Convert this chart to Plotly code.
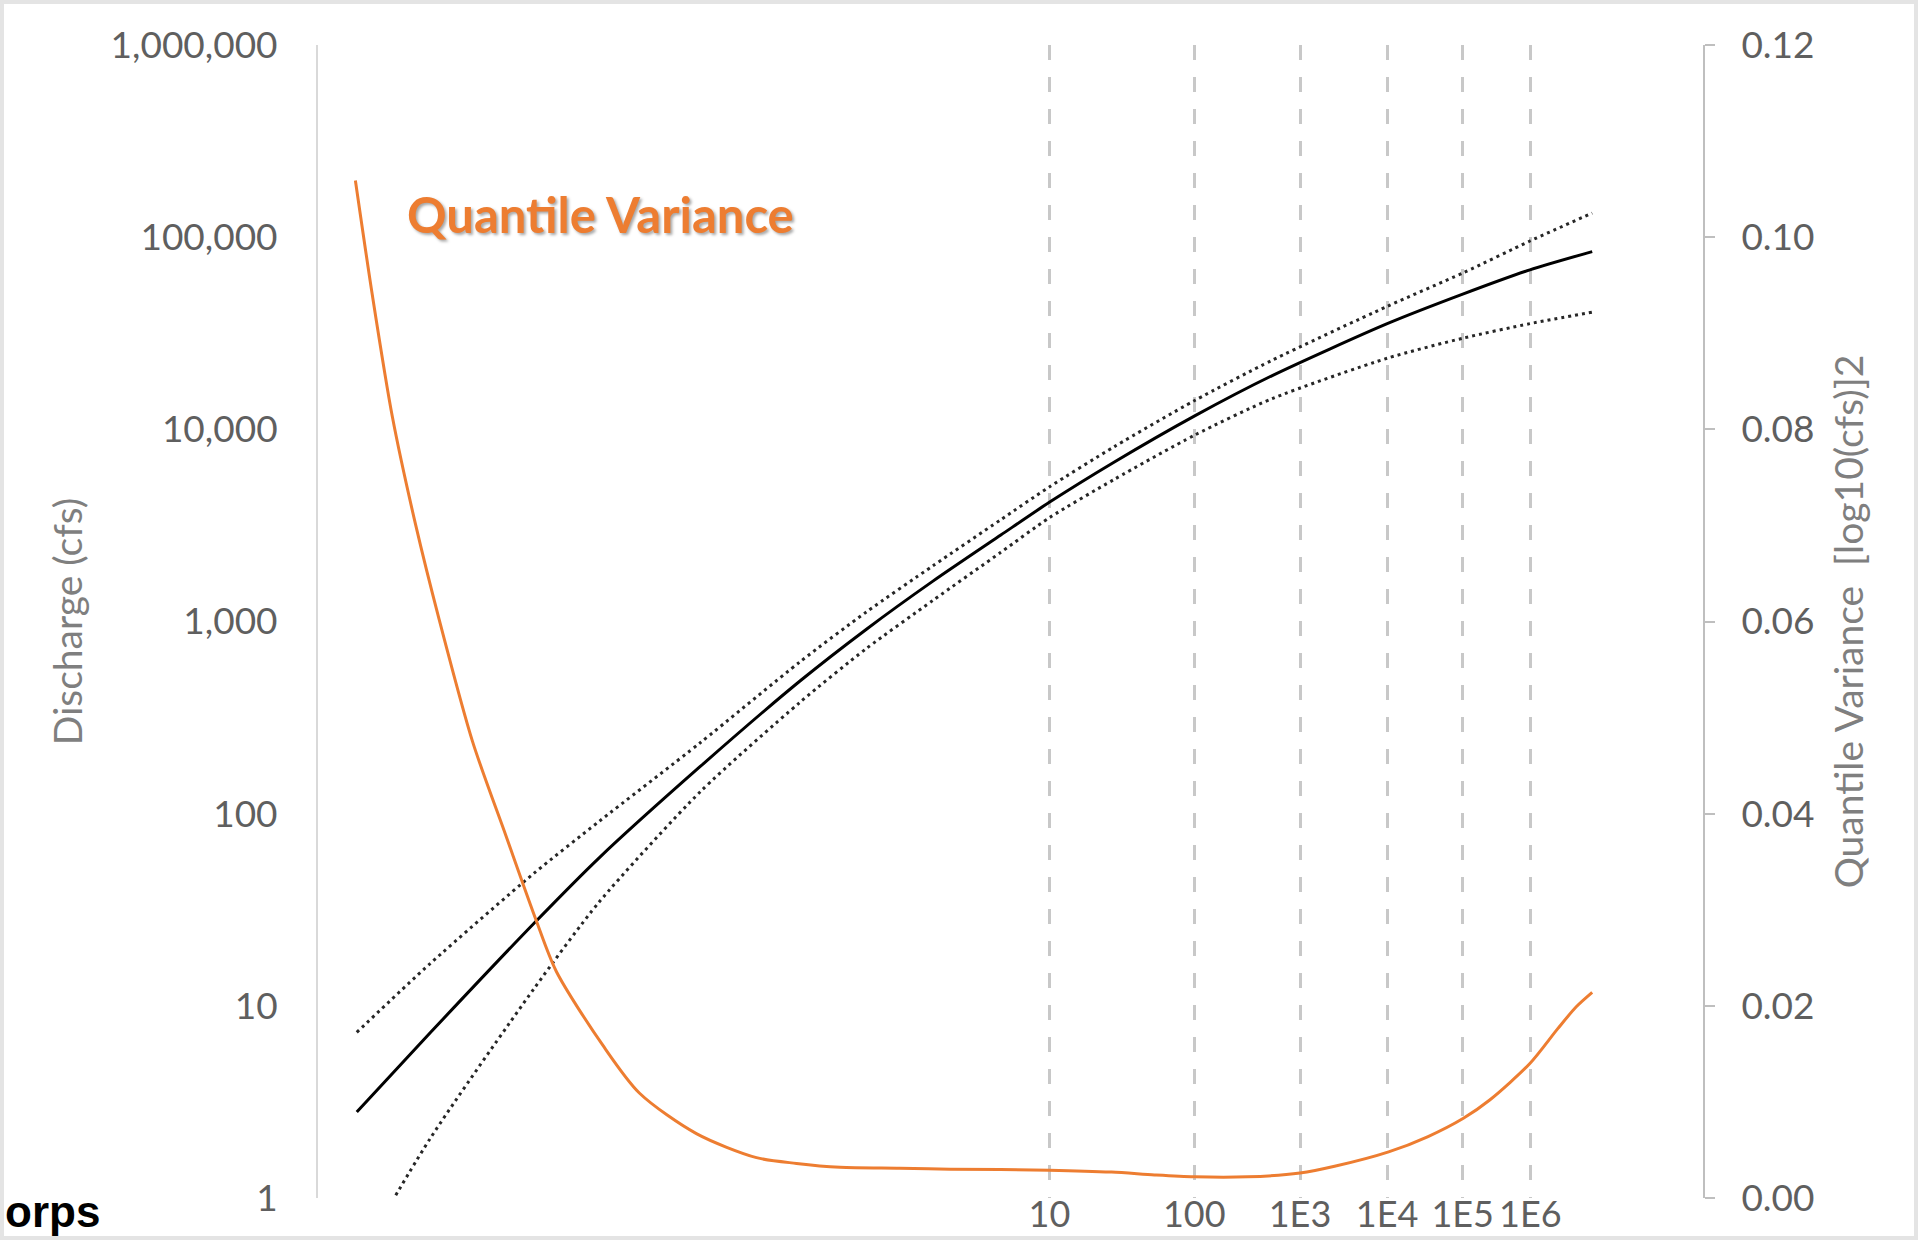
import math
import plotly.graph_objects as go

# ---------------- data (x = standard normal variate of non-exceedance probability) ----------------
z_curve = [-3.72, -3.19, -2.44, -1.97, -1.24, -0.52, -0.04, 0.44, 0.93, 1.28, 1.75, 2.33,
           2.89, 3.72, 4.27, 4.75, 5.20]
q_median = [2.80, 7.24, 26.9, 58.9, 176, 490, 912, 1622, 2818, 4169, 6761, 11750,
            19050, 35480, 50700, 67610, 84140]
q_upper = [7.28, 16.6, 49.0, 91.2, 234, 617, 1122, 1950, 3388, 5012, 8128, 14130,
           22910, 43650, 65310, 95500, 133400]
q_lower = [0.465, 2.04, 12.3, 34.7, 130, 380, 724, 1288, 2291, 3467, 5495, 9333,
           14450, 23440, 29850, 35480, 40740]

z_variance = [-3.73, -3.608, -3.463, -3.294, -3.125, -2.884, -2.643, -2.425, -2.28, -1.944, -1.678,
              -1.268, -0.834, -0.545, -0.231, 0.2, 0.565, 1.28, 1.73, 2.04, 2.326, 2.71, 3.09, 3.34,
              3.73, 4.015, 4.27, 4.46, 4.75, 4.95, 5.085, 5.20]
quantile_variance = [0.1059, 0.0940, 0.0813, 0.0700, 0.0602, 0.0475, 0.0377, 0.0289, 0.0236, 0.0159,
                     0.0109, 0.0067, 0.0042, 0.0036, 0.0032, 0.0031, 0.0030, 0.0029, 0.0027, 0.0024,
                     0.0022, 0.0022, 0.0026, 0.0033, 0.0048, 0.0064, 0.0083, 0.0102, 0.0140, 0.0176,
                     0.0199, 0.0214]

return_periods = [10, 100, 1000, 10000, 100000, 1000000]
return_labels = ["10", "100", "1E3", "1E4", "1E5", "1E6"]
discharge_ticks = [1, 10, 100, 1000, 10000, 100000, 1000000]
discharge_labels = ["1", "10", "100", "1,000", "10,000", "100,000", "1,000,000"]
variance_ticks = [0.0, 0.02, 0.04, 0.06, 0.08, 0.10, 0.12]


def norm_ppf(p):
    lo, hi = -12.0, 12.0
    for _ in range(200):
        mid = 0.5 * (lo + hi)
        if 0.5 * math.erfc(-mid / math.sqrt(2)) < p:
            lo = mid
        else:
            hi = mid
    return 0.5 * (lo + hi)


return_z = [norm_ppf(1 - 1 / t) for t in return_periods]

# ---------------- figure ----------------
W, H = 1921, 1240
ML, MR, MT, MB = 318, 218, 45, 42
PW, PH = W - ML - MR, H - MT - MB

TICK_COLOR = "#5f5f5f"
TITLE_COLOR = "#7f7f7f"
FONT = "Lato"

fig = go.Figure()
fig.add_trace(go.Scatter(x=z_curve, y=q_upper, mode="lines",
                         line=dict(color="#262626", width=3, dash="3px,4px", shape="spline", smoothing=0.7),
                         showlegend=False))
fig.add_trace(go.Scatter(x=z_curve, y=q_lower, mode="lines",
                         line=dict(color="#262626", width=3, dash="3px,4px", shape="spline", smoothing=0.7),
                         showlegend=False))
fig.add_trace(go.Scatter(x=z_curve, y=q_median, mode="lines",
                         line=dict(color="#000000", width=3, shape="spline", smoothing=0.7),
                         showlegend=False))
fig.add_trace(go.Scatter(x=z_variance, y=quantile_variance, mode="lines", yaxis="y2",
                         line=dict(color="#ED7D31", width=3, shape="spline", smoothing=0.8),
                         showlegend=False))

fig.update_layout(
    width=W, height=H,
    margin=dict(l=ML, r=MR, t=MT, b=MB, pad=0),
    paper_bgcolor="white", plot_bgcolor="white",
    font=dict(family=FONT, color=TICK_COLOR),
    template="none",
    xaxis=dict(
        range=[-4.0, 6.0], tickmode="array", tickvals=return_z, ticktext=return_labels,
        tickangle=0, showline=False, zeroline=False, ticks="",
        showgrid=True, gridcolor="#c8c8c8", gridwidth=2.5, griddash="15px,17px",
        tickfont=dict(family=FONT, size=36, color=TICK_COLOR),
        ticklabelstandoff=-8,
    ),
    yaxis=dict(
        type="log", range=[0, 6], tickmode="array", tickvals=discharge_ticks, ticktext=discharge_labels,
        showline=True, linecolor="#d9d9d9", linewidth=2, showgrid=False, zeroline=False, ticks="",
        tickfont=dict(family=FONT, size=37, color=TICK_COLOR), ticklabelstandoff=31,
        title=dict(text="Discharge (cfs)", font=dict(family=FONT, size=39, color=TITLE_COLOR), standoff=16),
    ),
    yaxis2=dict(
        overlaying="y", side="right", range=[0, 0.12], tickmode="array", tickvals=variance_ticks,
        tickformat=".2f", showline=True, linecolor="#bfbfbf", linewidth=2, showgrid=False,
        zeroline=False, ticks="outside", ticklen=10, tickwidth=2, tickcolor="#bfbfbf",
        tickfont=dict(family=FONT, size=37, color=TICK_COLOR), ticklabelstandoff=19,
        title=dict(text="Quantile Variance  [log10(cfs)]2", font=dict(family=FONT, size=39, color=TITLE_COLOR),
                   standoff=22),
    ),
)

# Quantile Variance label
fig.add_annotation(
    text="<b>Quantile Variance</b>", xref="paper", yref="paper",
    x=(600 - ML) / PW, y=(H - MB - 214) / PH, xanchor="center", yanchor="middle", showarrow=False,
    font=dict(family=FONT, size=49, color="#ED7D31", shadow="2px 2px 3px rgba(0,0,0,0.35)"),
)

# text fragment at bottom-left
fig.add_annotation(
    text="<b>orps</b>", xref="paper", yref="paper",
    x=(4 - ML) / PW, y=(H - MB - 1237) / PH, xanchor="left", yanchor="bottom", showarrow=False,
    font=dict(family="Liberation Sans", size=44, color="#000000"), borderpad=0,
)

# outer light frame
fig.add_shape(type="rect", xref="paper", yref="paper",
              x0=(2 - ML) / PW, x1=(1916 - ML) / PW,
              y0=(H - MB - 1238) / PH, y1=(H - MB - 2) / PH,
              line=dict(color="#e4e4e4", width=4), fillcolor="rgba(0,0,0,0)", layer="below")

fig.write_html("out.html", config={"displayModeBar": False},
               post_script="document.body.style.margin='0';document.body.style.overflow='hidden';")
